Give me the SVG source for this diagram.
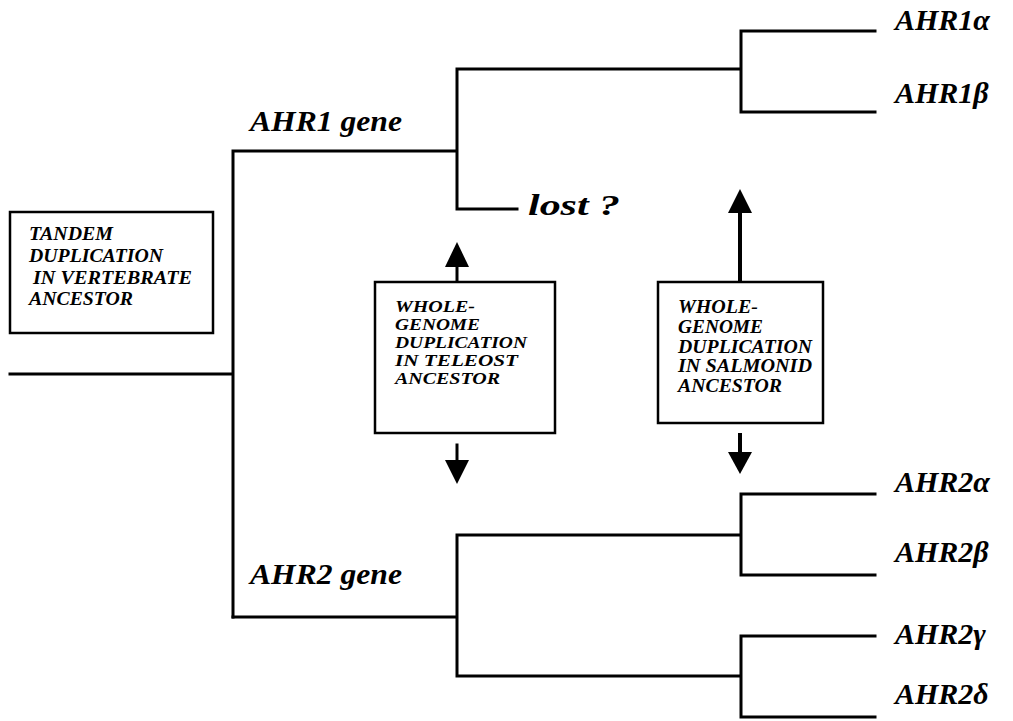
<svg xmlns="http://www.w3.org/2000/svg" width="1013" height="721" viewBox="0 0 1013 721">
<style>
.ln{stroke:#000;stroke-width:3;fill:none;stroke-linecap:square}
.box{stroke:#000;stroke-width:2.5;fill:#fff}
.t{font-family:"Liberation Serif","Times New Roman",serif;font-weight:bold;font-style:italic;fill:#000}
.bx{font-size:18px}
.bs{font-size:16.5px}
.lb{font-size:29px}
.tip{font-size:30px}
.arr{fill:#000}
</style>
<rect width="1013" height="721" fill="#fff"/>
<g id="connectors">
<path class="ln" d="M10 374H233M233 151V617M233 151H457M457 69V209M457 209H517M457 69H741M741 31V112M741 31H875M741 112H875"/>
<path class="ln" d="M233 617H457M457 535V676M457 535H741M741 494V575M741 494H875M741 575H875M457 676H741M741 636V717M741 636H875M741 717H875"/>
<g id="arrows">
<line class="ln" x1="457" y1="282" x2="457" y2="266" stroke-linecap="butt"/>
<polygon class="arr" points="445,267 469,267 457,242"/>
<line class="ln" x1="457" y1="445" x2="457" y2="461" stroke-linecap="butt"/>
<polygon class="arr" points="445,460 469,460 457,484"/>
<line x1="740" y1="282" x2="740" y2="212" stroke="#000" stroke-width="4"/>
<polygon class="arr" points="728,213 752,213 740,189"/>
<line x1="740" y1="433" x2="740" y2="453" stroke="#000" stroke-width="4"/>
<polygon class="arr" points="728,452 752,452 740,474"/>
</g>
</g>
<g id="tandem">
<rect class="box" x="10" y="212" width="203" height="121"/>
<text class="t bx" x="29" y="240" textLength="84" lengthAdjust="spacingAndGlyphs">TANDEM</text>
<text class="t bx" x="29" y="262" textLength="134" lengthAdjust="spacingAndGlyphs">DUPLICATION</text>
<text class="t bx" x="33" y="284" textLength="159" lengthAdjust="spacingAndGlyphs">IN VERTEBRATE</text>
<text class="t bx" x="29" y="305" textLength="104" lengthAdjust="spacingAndGlyphs">ANCESTOR</text>
</g>
<g id="teleost">
<rect class="box" x="375" y="282" width="180" height="151"/>
<text class="t bs" x="395" y="312" textLength="80" lengthAdjust="spacingAndGlyphs">WHOLE-</text>
<text class="t bs" x="395" y="330" textLength="85" lengthAdjust="spacingAndGlyphs">GENOME</text>
<text class="t bs" x="395" y="348" textLength="132" lengthAdjust="spacingAndGlyphs">DUPLICATION</text>
<text class="t bs" x="395" y="366" textLength="123" lengthAdjust="spacingAndGlyphs">IN TELEOST</text>
<text class="t bs" x="395" y="384" textLength="105" lengthAdjust="spacingAndGlyphs">ANCESTOR</text>
</g>
<g id="salmonid">
<rect class="box" x="658" y="282" width="165" height="141"/>
<text class="t bx" x="678" y="313" textLength="80" lengthAdjust="spacingAndGlyphs">WHOLE-</text>
<text class="t bx" x="678" y="333" textLength="85" lengthAdjust="spacingAndGlyphs">GENOME</text>
<text class="t bx" x="678" y="353" textLength="134" lengthAdjust="spacingAndGlyphs">DUPLICATION</text>
<text class="t bx" x="678" y="372" textLength="134" lengthAdjust="spacingAndGlyphs">IN SALMONID</text>
<text class="t bx" x="678" y="392" textLength="104" lengthAdjust="spacingAndGlyphs">ANCESTOR</text>
</g>
<g id="ahr1-gene"><text class="t lb" x="250" y="131" textLength="152" lengthAdjust="spacingAndGlyphs">AHR1 gene</text></g>
<g id="ahr2-gene"><text class="t lb" x="250" y="584" textLength="152" lengthAdjust="spacingAndGlyphs">AHR2 gene</text></g>
<g id="lost"><text class="t lb" x="528" y="215" font-size="31" textLength="92" lengthAdjust="spacingAndGlyphs">lost ?</text></g>
<g id="ahr1a"><text class="t tip" x="895" y="30">AHR1α</text></g>
<g id="ahr1b"><text class="t tip" x="895" y="103">AHR1β</text></g>
<g id="ahr2a"><text class="t tip" x="895" y="492">AHR2α</text></g>
<g id="ahr2b"><text class="t tip" x="895" y="562">AHR2β</text></g>
<g id="ahr2g"><text class="t tip" x="895" y="644">AHR2γ</text></g>
<g id="ahr2d"><text class="t tip" x="895" y="704">AHR2δ</text></g>
</svg>
